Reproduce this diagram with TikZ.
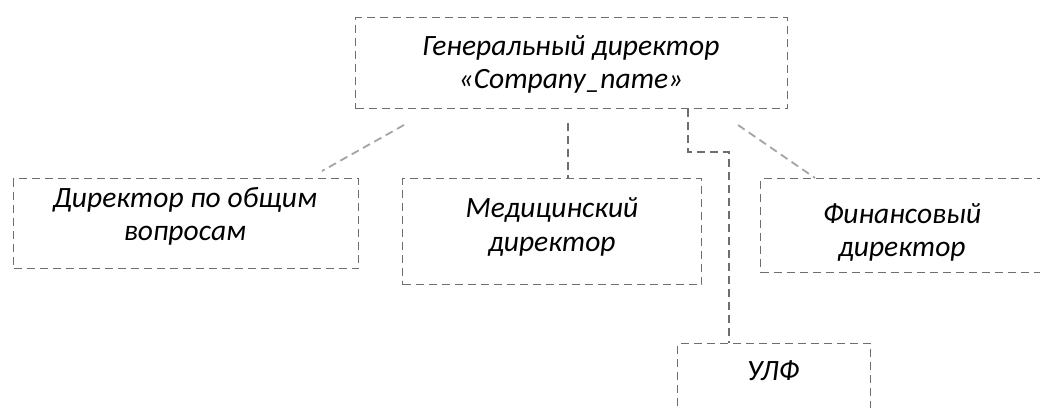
\documentclass[tikz,border=0pt]{standalone}
\usepackage{fontspec}
\setmainfont{Carlito}
\usetikzlibrary{calc}
\begin{document}
\begin{tikzpicture}[x=1pt,y=-1pt,
  box/.style={draw=boxgray, line width=1.4pt, dash pattern=on 8pt off 5pt, inner sep=0pt, anchor=north west},
  link/.style={draw=boxgray, line width=1.4pt, dash pattern=on 8pt off 5pt},
  faint/.style={draw=linkgray, line width=1.8pt, dash pattern=on 8pt off 5pt},
  txt/.style={font=\itshape\fontsize{29.5}{34}\selectfont, align=center, inner sep=0pt, anchor=base}]
\definecolor{boxgray}{HTML}{6E6E6E}
\definecolor{linkgray}{HTML}{A4A4A4}
\useasboundingbox (0,0) rectangle (1040,407);
% boxes
\node[box, minimum width=432pt, minimum height=91pt] (gd) at (355,17) {};
\node[box, minimum width=345pt, minimum height=90pt] (dob) at (13,178) {};
\node[box, minimum width=299pt, minimum height=106pt] (med) at (402,178) {};
\node[box, minimum width=290pt, minimum height=94pt] (fin) at (760,178) {};
\node[box, minimum width=193pt, minimum height=80pt] (ulf) at (677,343) {};
% texts
\node[txt] (t1) at (571,55) {Генеральный директор};
\node[txt] (t2) at (571,88) {«Company\_name»};
\node[txt] (t3) at (185,207) {Директор по общим};
\node[txt] (t4) at (185,240) {вопросам};
\node[txt] (t5) at (552,217) {Медицинский};
\node[txt] (t6) at (552,251) {директор};
\node[txt] (t7) at (902,223) {Финансовый};
\node[txt] (t8) at (902,256) {директор};
\node[txt] (t9) at (773,380) {УЛФ};
% connectors
\coordinate (l1) at (404,125);
\coordinate (l2) at (322,171);
\draw[faint] (l1) -- (l2);
\coordinate (m1) at (568,123);
\draw[link] (m1) -- (med.north -| m1);
\coordinate (r1) at (738,125);
\coordinate (r2) at (815,178);
\draw[faint] (r1) -- (r2);
\coordinate (u1) at (688,152);
\coordinate (u2) at (729,152);
\draw[link] (gd.south -| u1) -- (u1) -- (u2) -- (ulf.north -| u2);
\end{tikzpicture}
\end{document}
